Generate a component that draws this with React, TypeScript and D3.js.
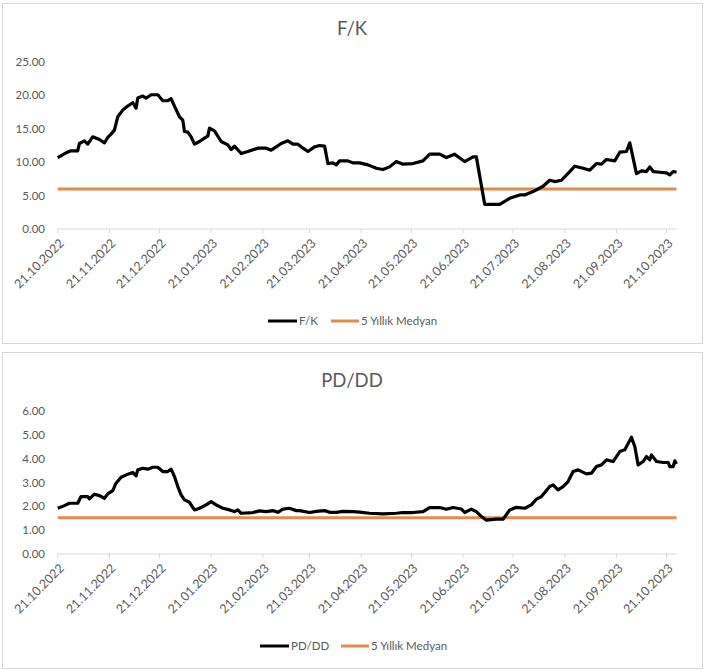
import React from "react";
import * as d3 from "d3";

// ---------- DATA ----------
const fkDates = [
  "2022-10-21","2022-10-26","2022-10-29","2022-11-02","2022-11-03","2022-11-06","2022-11-08","2022-11-11",
  "2022-11-15","2022-11-18","2022-11-20","2022-11-22","2022-11-24","2022-11-26","2022-11-29","2022-12-02",
  "2022-12-05","2022-12-07","2022-12-08","2022-12-11","2022-12-13","2022-12-16","2022-12-20","2022-12-23",
  "2022-12-26","2022-12-28","2022-12-30","2023-01-02","2023-01-04","2023-01-05","2023-01-07","2023-01-09",
  "2023-01-11","2023-01-14","2023-01-17","2023-01-19","2023-01-20","2023-01-23","2023-01-27","2023-01-31",
  "2023-02-02","2023-02-04","2023-02-08","2023-02-12","2023-02-18","2023-02-23","2023-02-26","2023-03-01",
  "2023-03-04","2023-03-08","2023-03-11","2023-03-14","2023-03-16","2023-03-20","2023-03-24","2023-03-27",
  "2023-03-30","2023-04-01","2023-04-04","2023-04-06","2023-04-08","2023-04-13","2023-04-16","2023-04-20",
  "2023-04-25","2023-04-30","2023-05-04","2023-05-08","2023-05-12","2023-05-16","2023-05-22","2023-05-28",
  "2023-06-01","2023-06-07","2023-06-11","2023-06-16","2023-06-22","2023-06-27","2023-06-29","2023-07-04",
  "2023-07-13","2023-07-19","2023-07-25","2023-07-28","2023-08-02","2023-08-08","2023-08-12","2023-08-15",
  "2023-08-19","2023-08-24","2023-08-27","2023-09-01","2023-09-05","2023-09-09","2023-09-12","2023-09-15",
  "2023-09-20","2023-09-23","2023-09-27","2023-09-29","2023-10-03","2023-10-06","2023-10-09","2023-10-11",
  "2023-10-13","2023-10-17","2023-10-21","2023-10-23","2023-10-25","2023-10-27",
];
const fkValues = [
  10.7,11.4,11.7,11.7,12.8,13.2,12.7,13.8,
  13.4,12.9,13.7,14.2,14.8,16.8,17.8,18.4,
  18.9,18.1,19.6,19.9,19.6,20.1,20.1,19.2,
  19.2,19.5,18.4,16.8,16.3,14.6,14.5,13.8,
  12.7,13.1,13.6,13.9,15.1,14.7,13.1,12.6,
  11.9,12.4,11.3,11.6,12.1,12.1,11.8,12.3,
  12.8,13.2,12.7,12.7,12.3,11.6,12.3,12.5,
  12.4,9.8,9.9,9.6,10.2,10.2,9.9,9.9,
  9.6,9.1,8.9,9.3,10.1,9.7,9.8,10.2,
  11.2,11.2,10.7,11.2,10.1,10.8,10.8,3.7,
  3.7,4.6,5.1,5.1,5.6,6.4,7.3,7.1,
  7.3,8.6,9.4,9.1,8.8,9.8,9.7,10.4,
  10.2,11.5,11.6,12.9,8.3,8.7,8.6,9.3,
  8.6,8.5,8.4,8.1,8.6,8.5,
];
const fkMedian = 6.0;

const pdDates = [
  "2022-10-21","2022-10-25","2022-10-28","2022-11-02","2022-11-04","2022-11-08","2022-11-09","2022-11-12",
  "2022-11-15","2022-11-18","2022-11-20","2022-11-23","2022-11-25","2022-11-28","2022-12-02","2022-12-05",
  "2022-12-07","2022-12-08","2022-12-11","2022-12-14","2022-12-17","2022-12-20","2022-12-23","2022-12-26",
  "2022-12-28","2022-12-30","2023-01-01","2023-01-03","2023-01-05","2023-01-08","2023-01-11","2023-01-14",
  "2023-01-18","2023-01-21","2023-01-24","2023-01-28","2023-02-01","2023-02-04","2023-02-06","2023-02-08",
  "2023-02-15","2023-02-19","2023-02-23","2023-02-27","2023-03-02","2023-03-05","2023-03-09","2023-03-13",
  "2023-03-15","2023-03-21","2023-03-25","2023-03-30","2023-04-02","2023-04-06","2023-04-10","2023-04-16",
  "2023-04-20","2023-04-26","2023-05-04","2023-05-12","2023-05-16","2023-05-22","2023-05-28","2023-06-01",
  "2023-06-07","2023-06-11","2023-06-15","2023-06-20","2023-06-22","2023-06-26","2023-06-29","2023-07-01",
  "2023-07-05","2023-07-11","2023-07-15","2023-07-19","2023-07-23","2023-07-28","2023-08-01","2023-08-04",
  "2023-08-07","2023-08-12","2023-08-14","2023-08-17","2023-08-20","2023-08-23","2023-08-26","2023-08-29",
  "2023-09-03","2023-09-06","2023-09-09","2023-09-12","2023-09-15","2023-09-19","2023-09-23","2023-09-26",
  "2023-09-30","2023-10-02","2023-10-04","2023-10-07","2023-10-09","2023-10-11","2023-10-12","2023-10-15",
  "2023-10-19","2023-10-22","2023-10-23","2023-10-25","2023-10-26","2023-10-27",
];
const pdValues = [
  1.92,2.03,2.13,2.13,2.41,2.41,2.31,2.51,
  2.45,2.34,2.52,2.66,2.97,3.22,3.35,3.42,
  3.28,3.53,3.60,3.56,3.64,3.64,3.46,3.46,
  3.56,3.25,2.83,2.48,2.27,2.17,1.85,1.92,
  2.06,2.20,2.06,1.92,1.85,1.78,1.85,1.71,
  1.74,1.81,1.78,1.82,1.75,1.88,1.92,1.82,
  1.82,1.74,1.79,1.82,1.75,1.75,1.79,1.78,
  1.76,1.71,1.68,1.71,1.74,1.74,1.78,1.95,
  1.95,1.88,1.95,1.89,1.74,1.88,1.78,1.64,
  1.42,1.46,1.46,1.85,1.96,1.92,2.06,2.30,
  2.41,2.83,2.90,2.69,2.83,3.04,3.46,3.53,
  3.36,3.39,3.67,3.74,3.95,3.88,4.30,4.37,
  4.90,4.51,3.74,3.88,4.09,3.95,4.16,3.88,
  3.84,3.84,3.67,3.67,3.91,3.78,
];
const pdMedian = 1.52;

const tickDates = [
  "2022-10-21","2022-11-21","2022-12-21","2023-01-21","2023-02-21","2023-03-21","2023-04-21",
  "2023-05-21","2023-06-21","2023-07-21","2023-08-21","2023-09-21","2023-10-21",
];
const fkYTicks = [0, 5, 10, 15, 20, 25];
const pdYTicks = [0, 1, 2, 3, 4, 5, 6];
const medianLabel = "5 Yıllık Medyan";

// ---------- RENDER ----------
const FONT = "Lato, 'Open Sans', sans-serif";
const TXT = "#595959";
const ORANGE = "#E38A4C";
const parse = d3.timeParse("%Y-%m-%d");
const fmtTick = d3.timeFormat("%d.%m.%Y");

const xScale = d3
  .scaleTime()
  .domain([parse("2022-10-21")!, parse("2023-10-27")!])
  .range([57.7, 676.5]);

type ChartProps = {
  title: string;
  seriesName: string;
  dates: string[];
  values: number[];
  median: number;
  yTicks: number[];
  panelTop: number;
  panelBottom: number;
  titleY: number;
  plotTop: number;
  plotBottom: number;
  legendY: number;
  legendX: number;
  seriesTextW: number;
};

function Chart(p: ChartProps) {
  const yMax = p.yTicks[p.yTicks.length - 1];
  const y = d3.scaleLinear().domain([0, yMax]).range([p.plotBottom, p.plotTop]);
  const data = p.dates.map((d, i) => ({ date: parse(d)!, v: p.values[i] }));
  const line = d3
    .line<{ date: Date; v: number }>()
    .x((d) => xScale(d.date))
    .y((d) => y(d.v));
  const [x0, x1] = xScale.range();
  const lx = p.legendX;
  const sw = p.seriesTextW;
  return (
    <g>
      <rect
        x={2.5}
        y={p.panelTop + 0.5}
        width={700}
        height={p.panelBottom - p.panelTop}
        fill="#fff"
        stroke="#d9d9d9"
        strokeWidth={1}
      />
      <text
        x={352}
        y={p.titleY}
        textAnchor="middle"
        fontSize={18.5}
        fill={TXT}
        fontFamily={FONT}
      >
        {p.title}
      </text>
      {p.yTicks.map((t) => (
        <text
          key={t}
          x={45}
          y={y(t)}
          dy="0.35em"
          textAnchor="end"
          fontSize={11.5}
          fill={TXT}
          fontFamily={FONT}
        >
          {t.toFixed(2)}
        </text>
      ))}
      <line x1={x0} x2={x1} y1={y(0)} y2={y(0)} stroke="#d9d9d9" strokeWidth={1} />
      {tickDates.map((t) => {
        const tx = xScale(parse(t)!);
        return (
          <g key={t}>
            <line x1={tx} x2={tx} y1={y(0)} y2={y(0) + 4} stroke="#d9d9d9" strokeWidth={1} />
            <text
              transform={`translate(${tx + 4},${y(0) + 12}) rotate(-45)`}
              textAnchor="end"
              dy="0.35em"
              fontSize={12.5}
              fill={TXT}
              fontFamily={FONT}
            >
              {fmtTick(parse(t)!)}
            </text>
          </g>
        );
      })}
      <line
        x1={x0}
        x2={x1}
        y1={y(p.median)}
        y2={y(p.median)}
        stroke={ORANGE}
        strokeWidth={3}
      />
      <path
        d={line(data) || ""}
        fill="none"
        stroke="#000"
        strokeWidth={3.2}
        strokeLinejoin="round"
      />
      <line x1={lx} x2={lx + 29} y1={p.legendY} y2={p.legendY} stroke="#000" strokeWidth={3} />
      <text
        x={lx + 31}
        y={p.legendY}
        dy="0.35em"
        fontSize={11.5}
        fill={TXT}
        fontFamily={FONT}
      >
        {p.seriesName}
      </text>
      <line
        x1={lx + 31 + sw + 14}
        x2={lx + 31 + sw + 14 + 28}
        y1={p.legendY}
        y2={p.legendY}
        stroke={ORANGE}
        strokeWidth={3}
      />
      <text
        x={lx + 31 + sw + 14 + 30}
        y={p.legendY}
        dy="0.35em"
        fontSize={11.5}
        fill={TXT}
        fontFamily={FONT}
      >
        {medianLabel}
      </text>
    </g>
  );
}

export default function App() {
  return (
    <svg
      width={723}
      height={671}
      style={{ position: "absolute", left: 0, top: 0, background: "#fff" }}
    >
      <rect x={0} y={0} width={723} height={671} fill="#fff" />
      <Chart
        title="F/K"
        seriesName="F/K"
        dates={fkDates}
        values={fkValues}
        median={fkMedian}
        yTicks={fkYTicks}
        panelTop={3}
        panelBottom={343}
        titleY={35}
        plotTop={62}
        plotBottom={229}
        legendY={321}
        legendX={268}
        seriesTextW={18}
      />
      <Chart
        title="PD/DD"
        seriesName="PD/DD"
        dates={pdDates}
        values={pdValues}
        median={pdMedian}
        yTicks={pdYTicks}
        panelTop={352}
        panelBottom={668}
        titleY={387}
        plotTop={411}
        plotBottom={554}
        legendY={646}
        legendX={260}
        seriesTextW={36}
      />
    </svg>
  );
}
